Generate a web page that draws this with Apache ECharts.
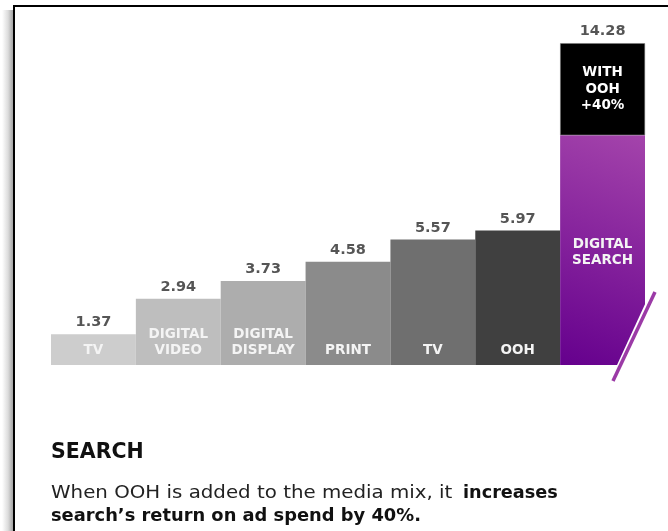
<!DOCTYPE html>
<html>
<head>
<meta charset="utf-8">
<script src="https://cdn.jsdelivr.net/npm/echarts@6/dist/echarts.min.js"></script>
<style>
html,body{margin:0;padding:0;background:#fff;}
#chart{width:668px;height:531px;}
</style>
</head>
<body>
<div id="chart"></div>
<script>
var categories = ['TV', 'DIGITAL\nVIDEO', 'DIGITAL\nDISPLAY', 'PRINT', 'TV', 'OOH', 'DIGITAL\nSEARCH'];
var baseValues = [1.37, 2.94, 3.73, 4.58, 5.57, 5.97, 10.2];
var oohLift = [null, null, null, null, null, null, 4.08];
var totals = [1.37, 2.94, 3.73, 4.58, 5.57, 5.97, 14.28];
var valueLabels = ['1.37', '2.94', '3.73', '4.58', '5.57', '5.97', '14.28'];
var barColors = ['#cdcdcd', '#bebebe', '#adadad', '#8b8b8b', '#6f6f6f', '#404040'];
var liftLabel = 'WITH\nOOH\n+40%';
var titleText = 'SEARCH';
var bodyRegular = 'When OOH is added to the media mix, it';
var bodyBold1 = 'increases';
var bodyBold2 = 'search\u2019s return on ad spend by 40%.';

var FONT = 'DejaVu Sans';
var chart = echarts.init(document.getElementById('chart'), null, {renderer: 'canvas'});

var purpleGrad = new echarts.graphic.LinearGradient(1, 0, 0, 1, [
  {offset: 0, color: '#a444ab'},
  {offset: 1, color: '#65008d'}
]);

var baseData = baseValues.map(function (v, i) {
  var last = i === baseValues.length - 1;
  return {
    value: v,
    itemStyle: {color: last ? purpleGrad : barColors[i]},
    label: last ? {position: 'insideTop', offset: [0, 96]} : {position: 'insideBottom', distance: 7}
  };
});

chart.setOption({
  animation: false,
  grid: {left: 51, right: 23, top: 27, bottom: 166},
  xAxis: {type: 'category', data: categories, show: false},
  yAxis: {type: 'value', min: 0, max: 15, show: false},
  series: [
    {
      type: 'bar', stack: 's', data: baseData,
      barCategoryGap: '0%', barGap: '0%',
      label: {
        show: true,
        formatter: function (p) { return categories[p.dataIndex]; },
        color: '#f4f4f4', fontFamily: FONT, fontWeight: 'bold', fontSize: 13.5, lineHeight: 16
      }
    },
    {
      type: 'bar', stack: 's', data: oohLift,
      barCategoryGap: '0%', barGap: '0%',
      itemStyle: {color: '#000', borderColor: '#777', borderWidth: 0.5},
      label: {
        show: true, position: 'inside', formatter: liftLabel,
        color: '#fff', fontFamily: FONT, fontWeight: 'bold', fontSize: 13.5, lineHeight: 16.5
      }
    },
    {
      type: 'scatter', data: totals, symbolSize: 0, silent: true,
      label: {
        show: true, position: 'top', distance: 4,
        formatter: function (p) { return valueLabels[p.dataIndex]; },
        color: '#2a2a2a', fontFamily: FONT, fontWeight: 'bold', fontSize: 14.5
      }
    }
  ]
});

// decorations: frame, break slash, text
var last = categories.length - 1;
var c0 = chart.convertToPixel({gridIndex: 0}, [last, 0]);
var c1 = chart.convertToPixel({gridIndex: 0}, [last - 1, 0]);
var barW = c0[0] - c1[0];
var rightX = c0[0] + barW / 2;
var baseY = c0[1];
var topY = chart.convertToPixel({gridIndex: 0}, [last, 3.24])[1];
var slope = 0.472;
var sx1 = rightX + 10, sy1 = topY;
var sy2 = baseY + 16, sx2 = sx1 - (sy2 - sy1) * slope;
var cutY2 = baseY + 2;
var cutX2 = sx1 - (cutY2 - sy1) * slope - 3.5;

chart.setOption({
  graphic: [
    {type: 'rect', shape: {x: 2, y: 10, width: 12, height: 540}, z: 50,
      style: {fill: new echarts.graphic.LinearGradient(0, 0, 1, 0, [
        {offset: 0, color: 'rgba(255,255,255,1)'},
        {offset: 0.5, color: '#dcdcdc'},
        {offset: 1, color: '#9a9a9a'}
      ])}},
    {type: 'polyline', z: 51, shape: {points: [[14, 540], [14, 6], [680, 6]]},
      style: {stroke: '#000', lineWidth: 2, fill: null}},
    {type: 'polygon', z: 60, shape: {points: [[sx1 - 3.5, sy1 - 2], [rightX + 30, sy1 - 2], [rightX + 30, cutY2], [cutX2, cutY2]]},
      style: {fill: '#fff'}},
    {type: 'line', z: 61, shape: {x1: sx1, y1: sy1, x2: sx2, y2: sy2},
      style: {stroke: '#9b3aa6', lineWidth: 3.5}},
    {type: 'text', z: 70, x: 51, y: 453,
      style: {text: titleText, font: 'bold 20.5px "' + FONT + '"', fill: '#111', textVerticalAlign: 'middle'}},
    {type: 'text', z: 70, x: 51, y: 494, scaleX: 1.165,
      style: {text: bodyRegular, font: '17px "' + FONT + '"', fill: '#222', textVerticalAlign: 'middle'}},
    {type: 'text', z: 70, x: 463, y: 494, scaleX: 1.04,
      style: {text: bodyBold1, font: 'bold 17px "' + FONT + '"', fill: '#111', textVerticalAlign: 'middle'}},
    {type: 'text', z: 70, x: 51, y: 517, scaleX: 1.05,
      style: {text: bodyBold2, font: 'bold 17px "' + FONT + '"', fill: '#111', textVerticalAlign: 'middle'}}
  ]
});
</script>
</body>
</html>
